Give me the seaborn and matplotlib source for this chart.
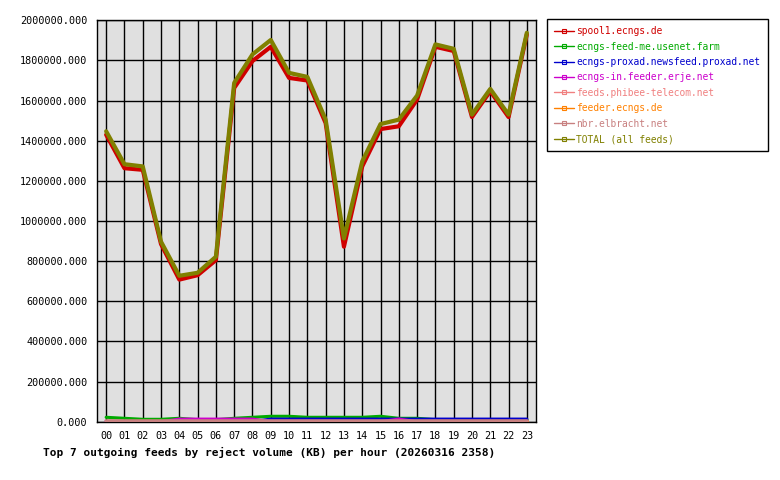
import numpy as np
import pandas as pd
import matplotlib
matplotlib.use('Agg')
import matplotlib.pyplot as plt
from matplotlib.lines import Line2D
import seaborn as sns

hours = ['%02d' % h for h in range(24)]

feed_names = ['spool1.ecngs.de', 'ecngs-feed-me.usenet.farm',
              'ecngs-proxad.newsfeed.proxad.net', 'ecngs-in.feeder.erje.net',
              'feeds.phibee-telecom.net', 'feeder.ecngs.de',
              'nbr.elbracht.net', 'TOTAL (all feeds)']
feed_colors = ['#d00000', '#00aa00', '#0000cc', '#cc00cc',
               '#f08080', '#ff8000', '#c88080', '#808000']

spool1 = [1430000, 1263000, 1255000, 885000, 708000, 730000, 805000, 1663000,
          1797000, 1868000, 1713000, 1700000, 1488000, 872000, 1272000, 1458000,
          1472000, 1605000, 1868000, 1847000, 1518000, 1647000, 1518000, 1930000]
feed_me = [22000, 17000, 12000, 12000, 17000, 10000, 10000, 17000,
           22000, 27000, 27000, 22000, 22000, 22000, 22000, 27000,
           17000, 17000, 10000, 10000, 10000, 10000, 10000, 10000]
proxad = [0, 0, 0, 0, 0, 0, 0, 0, 0, 13000, 13000, 13000, 13000, 13000, 13000,
          13000, 13000, 13000, 13000, 13000, 13000, 13000, 13000, 13000]
erje = [0, 0, 0, 0, 13000, 13000, 13000, 13000, 13000, 0, 0, 0, 0, 0, 0, 0,
        13000, 0, 0, 0, 0, 0, 0, 0]
phibee = [3000] * 24
feeder = [3000] * 24
elbracht = [3000] * 24
total = [1447000, 1283000, 1272000, 897000, 727000, 742000, 822000, 1688000,
         1830000, 1902000, 1738000, 1718000, 1505000, 913000, 1297000, 1483000,
         1505000, 1625000, 1880000, 1858000, 1530000, 1658000, 1530000, 1938000]

series = [spool1, feed_me, proxad, erje, phibee, feeder, elbracht, total]

rows = []
for name, vals in zip(feed_names, series):
    for h, v in enumerate(vals):
        rows.append({'hour': h, 'kb': v, 'feed': name})
df = pd.DataFrame(rows)

sns.set_style('white')
mono = ['DejaVu Sans Mono']
plt.rcParams['font.family'] = mono

fig = plt.figure(figsize=(7.8, 4.8), dpi=100)
ax = fig.add_axes([97 / 780, 1 - 421.7 / 480, 439 / 780, 401.4 / 480])
ax.set_facecolor('#e0e0e0')

widths = [3.0, 2.2, 2.2, 2.2, 2.2, 2.2, 2.6, 3.0]
for name, col, lw in zip(feed_names, feed_colors, widths):
    sns.lineplot(data=df[df['feed'] == name], x='hour', y='kb', color=col,
                 linewidth=lw, ax=ax, legend=False, zorder=3)

ax.set_xlim(-0.5, 23.5)
ax.set_ylim(0, 2000000)
ax.set_xticks(range(24))
ax.set_xticklabels(hours)
yt = np.arange(0, 2000001, 200000)
ax.set_yticks(yt)
ax.set_yticklabels(['%.3f' % v for v in yt])
ax.grid(True, color='black', linewidth=1.0, zorder=1)
ax.set_axisbelow(True)
for s in ax.spines.values():
    s.set_color('black')
    s.set_linewidth(1.0)
ax.tick_params(axis='both', direction='out', length=4, width=1, color='black',
               labelsize=7.3, labelcolor='black', pad=3)
ax.set_xlabel('')
ax.set_ylabel('')

handles = [Line2D([0], [0], color=c, linewidth=1.0, marker='s', markersize=2.5,
                  markerfacecolor='none', markeredgewidth=0.8)
           for c in feed_colors]
leg = fig.legend(handles, feed_names, loc='upper left',
                 bbox_to_anchor=(547 / 780, 1 - 19 / 480),
                 frameon=True, fancybox=False, edgecolor='black',
                 framealpha=1, prop={'family': mono, 'size': 6.95},
                 labelcolor=feed_colors, handlelength=2.0, handletextpad=0.3,
                 labelspacing=0.56, borderpad=0.75, borderaxespad=0)
leg.get_frame().set_linewidth(1.0)

fig.text(269 / 780, 1 - 452 / 480,
         'Top 7 outgoing feeds by reject volume (KB) per hour (20260316 2358)',
         ha='center', va='center', fontsize=8, fontweight='bold',
         family=mono, color='black')

fig.savefig('out.png', dpi=100)
